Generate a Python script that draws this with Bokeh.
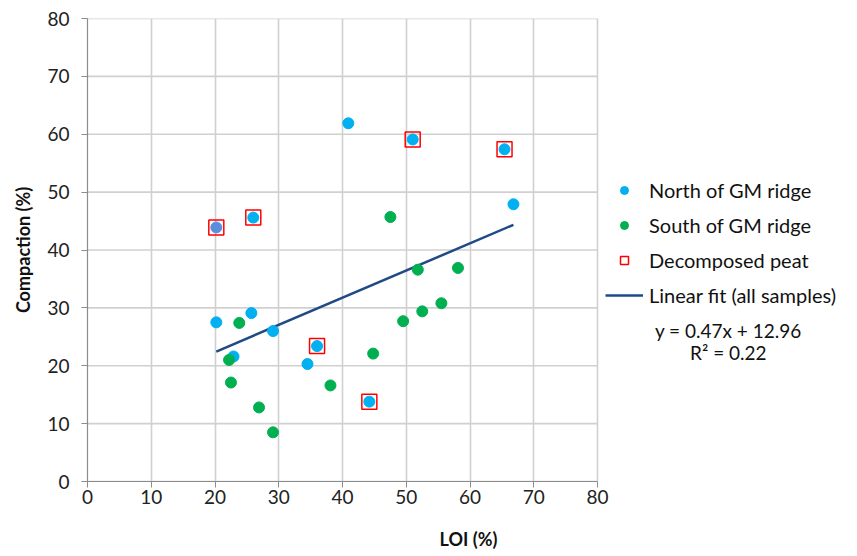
from bokeh.plotting import figure
from bokeh.models import Legend, LegendItem, Label, Range1d, FixedTicker
from bokeh.embed import file_html
from bokeh.resources import INLINE

north_loi = [40.9, 51.0, 65.4, 66.8, 20.2, 26.0, 20.2, 25.7, 29.1, 22.9, 36.0, 34.5, 44.2]
north_comp = [61.9, 59.1, 57.4, 47.9, 43.9, 45.6, 27.5, 29.1, 26.0, 21.6, 23.4, 20.3, 13.8]
north_colors = ["#00b0f0"] * 4 + ["#5a8edc"] + ["#00b0f0"] * 8

south_loi = [47.5, 22.2, 23.8, 22.5, 26.9, 29.1, 38.1, 44.8, 51.8, 58.1, 49.5, 52.5, 55.5]
south_comp = [45.7, 21.0, 27.4, 17.1, 12.8, 8.5, 16.6, 22.1, 36.6, 36.9, 27.7, 29.4, 30.8]

decomp_loi = [20.2, 26.0, 51.0, 65.4, 36.0, 44.2]
decomp_comp = [43.9, 45.6, 59.1, 57.4, 23.4, 13.8]

fit_slope = 0.47
fit_intercept = 12.96
fit_r2 = 0.22
fit_x = [20.2, 66.8]
fit_y = [fit_slope * x + fit_intercept for x in fit_x]

ticks = [0, 10, 20, 30, 40, 50, 60, 70, 80]
axis_min, axis_max = 0, 80

FONT = "Lato"

# frame extends to the right so that the legend (drawn inside the frame) is not clipped
p = figure(width=849, height=556, output_backend="svg", toolbar_location=None,
           x_range=Range1d(0, 119.5), y_range=Range1d(0, 80),
           min_border_left=87, min_border_right=0, min_border_top=18, min_border_bottom=75)
p.outline_line_color = None
p.background_fill_color = "white"
p.border_fill_color = "white"

for ax in (p.xaxis[0], p.yaxis[0]):
    ax.ticker = FixedTicker(ticks=ticks)
    ax.minor_tick_line_color = None
    ax.major_tick_in = 0
    ax.major_tick_out = 6
    ax.axis_line_color = "#8c8c8c"
    ax.major_tick_line_color = "#8c8c8c"
    ax.axis_line_width = 1.2
    ax.major_label_text_font = FONT
    ax.major_label_text_font_size = "19px"
    ax.major_label_text_color = "#222222"
    ax.axis_label_text_font = FONT
    ax.axis_label_text_font_size = "18px"
    ax.axis_label_text_font_style = "bold"
    ax.axis_label_text_color = "#111111"

p.xaxis.bounds = (axis_min, axis_max)
p.xaxis.axis_label = "LOI (%)"
p.yaxis.axis_label = "Compaction (%)"
p.xaxis.major_label_standoff = 2
p.yaxis.major_label_standoff = 12
p.xaxis.axis_label_standoff = 21
p.yaxis.axis_label_standoff = 10

p.xgrid.ticker = FixedTicker(ticks=ticks)
p.xgrid.grid_line_color = "#d0d0d0"
p.xgrid.grid_line_width = 1.6
p.ygrid.grid_line_color = None

# horizontal grid lines limited to the axis extent
p.segment(x0=[axis_min] * len(ticks), x1=[axis_max] * len(ticks), y0=ticks, y1=ticks,
          line_color="#d0d0d0", line_width=1.6)

fit = p.line(fit_x, fit_y, line_color="#1f4a86", line_width=2.5)
north = p.scatter(north_loi, north_comp, marker="circle", size=11,
                  fill_color=north_colors, line_color=north_colors)
south = p.scatter(south_loi, south_comp, marker="circle", size=11,
                  fill_color="#00b050", line_color="#00b050")
decomp = p.scatter(decomp_loi, decomp_comp, marker="square", size=15,
                   fill_color=None, line_color="#ff0000", line_width=1.5)

legend = Legend(items=[
    LegendItem(label="North of GM ridge", renderers=[north], index=0),
    LegendItem(label="South of GM ridge", renderers=[south]),
    LegendItem(label="Decomposed peat", renderers=[decomp]),
    LegendItem(label="Linear fit (all samples)", renderers=[fit]),
], location=(518, 174), orientation="vertical")
legend.label_text_font = FONT
legend.label_text_font_size = "20px"
legend.label_text_color = "#111111"
legend.glyph_width = 38
legend.glyph_height = 20
legend.label_height = 20
legend.spacing = 11
legend.label_standoff = 6
legend.padding = 0
legend.margin = 0
legend.border_line_color = None
legend.background_fill_alpha = 0
p.add_layout(legend, "center")

eq1 = Label(x=100.5, y=26.1, text="y = %.2fx + %.2f" % (fit_slope, fit_intercept),
            text_align="center", text_baseline="middle",
            text_font=FONT, text_font_size="19px", text_color="#111111")
eq2 = Label(x=100.5, y=22.3, text="R² = %.2f" % fit_r2,
            text_align="center", text_baseline="middle",
            text_font=FONT, text_font_size="19px", text_color="#111111")
p.add_layout(eq1)
p.add_layout(eq2)

open("out.html", "w").write(file_html(p, INLINE))
